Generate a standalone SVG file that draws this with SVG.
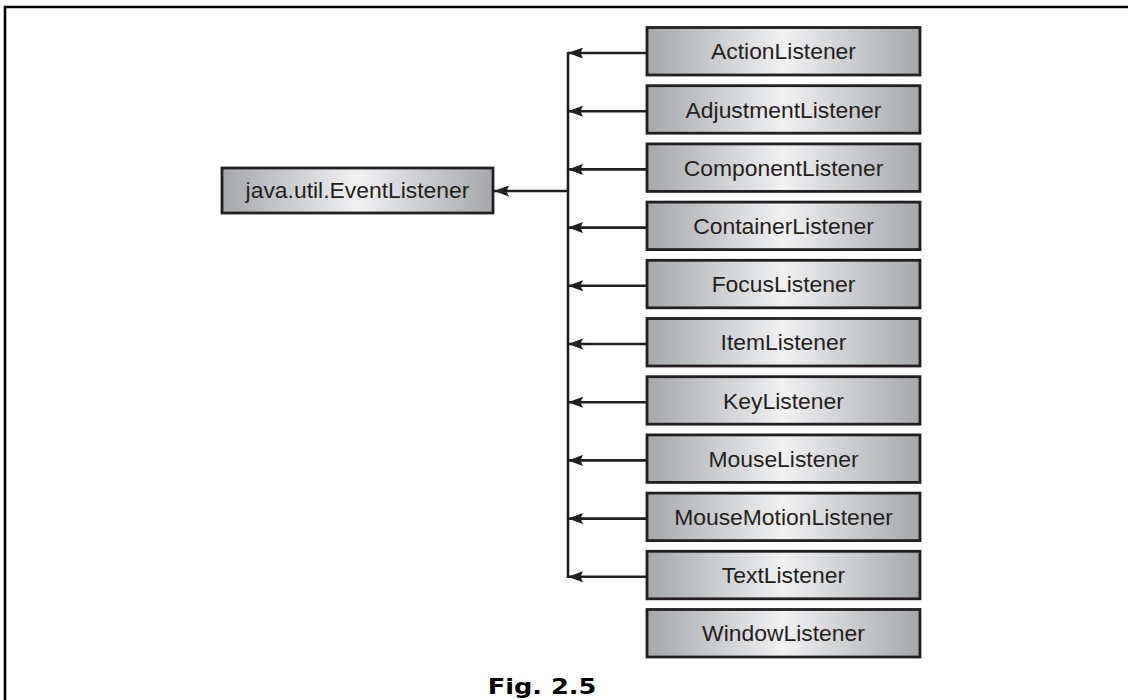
<svg xmlns="http://www.w3.org/2000/svg" width="1128" height="700" viewBox="0 0 1128 700">
  <style>
    .box { fill: url(#boxFill); stroke: #231f20; stroke-width: 2.8; }
    .lbl { font-family: "Liberation Sans", Arial, sans-serif; font-size: 22px; fill: #231f20; text-anchor: middle;
           transform-box: fill-box; transform-origin: center; transform: scaleX(1.04); }
    .wire { stroke: #231f20; stroke-width: 2.6; fill: none; }
    .arrow { stroke: #231f20; stroke-width: 2.6; fill: none; marker-end: url(#head); }
    .frame { stroke: #000; stroke-width: 2.6; fill: none; }
    .caption { font-family: "DejaVu Sans", Verdana, sans-serif; font-weight: bold; font-size: 21px; fill: #000; text-anchor: middle;
               transform-box: fill-box; transform-origin: center; transform: scaleX(1.22); }
  </style>
  <defs>
    <linearGradient id="boxFill" x1="0" y1="0" x2="1" y2="0">
      <stop offset="0" stop-color="#a5a7ab"/>
      <stop offset="0.5" stop-color="#f1f1f2"/>
      <stop offset="1" stop-color="#a5a7ab"/>
    </linearGradient>
    <marker id="head" viewBox="0 0 15 11" refX="15" refY="5.5" markerWidth="15" markerHeight="11" markerUnits="userSpaceOnUse" orient="auto">
      <path d="M0,0 L15,5.5 L0,11 L2.5,5.5 Z" fill="#231f20"/>
    </marker>
  </defs>

  <rect width="1128" height="700" fill="#fff"/>

  <!-- page frame, open to the right and bottom -->
  <path class="frame" d="M5,700 V7 H1128"/>

  <!-- connectors -->
  <g id="connectors">
    <line class="wire" x1="568" y1="52" x2="568" y2="578"/>
    <line class="arrow" x1="647" y1="53" x2="568" y2="53"/>
    <line class="arrow" x1="647" y1="111.2" x2="568" y2="111.2"/>
    <line class="arrow" x1="647" y1="169.4" x2="568" y2="169.4"/>
    <line class="arrow" x1="647" y1="227.6" x2="568" y2="227.6"/>
    <line class="arrow" x1="647" y1="285.8" x2="568" y2="285.8"/>
    <line class="arrow" x1="647" y1="344" x2="568" y2="344"/>
    <line class="arrow" x1="647" y1="402.2" x2="568" y2="402.2"/>
    <line class="arrow" x1="647" y1="460.4" x2="568" y2="460.4"/>
    <line class="arrow" x1="647" y1="518.6" x2="568" y2="518.6"/>
    <line class="arrow" x1="647" y1="576.8" x2="568" y2="576.8"/>
    <line class="arrow" x1="568" y1="191" x2="494" y2="191"/>
  </g>

  <!-- root interface -->
  <g id="node-eventlistener">
    <rect class="box" x="222" y="168" width="271" height="45"/>
    <text class="lbl" x="357.5" y="198.5">java.util.EventListener</text>
  </g>

  <!-- listener interfaces -->
  <g id="node-action">
    <rect class="box" x="647" y="27.5" width="273" height="47.5"/>
    <text class="lbl" x="783.5" y="59.5">ActionListener</text>
  </g>
  <g id="node-adjustment">
    <rect class="box" x="647" y="85.7" width="273" height="47.5"/>
    <text class="lbl" x="783.5" y="117.7">AdjustmentListener</text>
  </g>
  <g id="node-component">
    <rect class="box" x="647" y="143.9" width="273" height="47.5"/>
    <text class="lbl" x="783.5" y="175.9">ComponentListener</text>
  </g>
  <g id="node-container">
    <rect class="box" x="647" y="202.1" width="273" height="47.5"/>
    <text class="lbl" x="783.5" y="234.1">ContainerListener</text>
  </g>
  <g id="node-focus">
    <rect class="box" x="647" y="260.3" width="273" height="47.5"/>
    <text class="lbl" x="783.5" y="292.3">FocusListener</text>
  </g>
  <g id="node-item">
    <rect class="box" x="647" y="318.5" width="273" height="47.5"/>
    <text class="lbl" x="783.5" y="350.5">ItemListener</text>
  </g>
  <g id="node-key">
    <rect class="box" x="647" y="376.7" width="273" height="47.5"/>
    <text class="lbl" x="783.5" y="408.7">KeyListener</text>
  </g>
  <g id="node-mouse">
    <rect class="box" x="647" y="434.9" width="273" height="47.5"/>
    <text class="lbl" x="783.5" y="466.9">MouseListener</text>
  </g>
  <g id="node-mousemotion">
    <rect class="box" x="647" y="493.1" width="273" height="47.5"/>
    <text class="lbl" x="783.5" y="525.1">MouseMotionListener</text>
  </g>
  <g id="node-text">
    <rect class="box" x="647" y="551.3" width="273" height="47.5"/>
    <text class="lbl" x="783.5" y="583.3">TextListener</text>
  </g>
  <g id="node-window">
    <rect class="box" x="647" y="609.5" width="273" height="47.5"/>
    <text class="lbl" x="783.5" y="641.5">WindowListener</text>
  </g>

  <text class="caption" x="542" y="694">Fig. 2.5</text>
</svg>
